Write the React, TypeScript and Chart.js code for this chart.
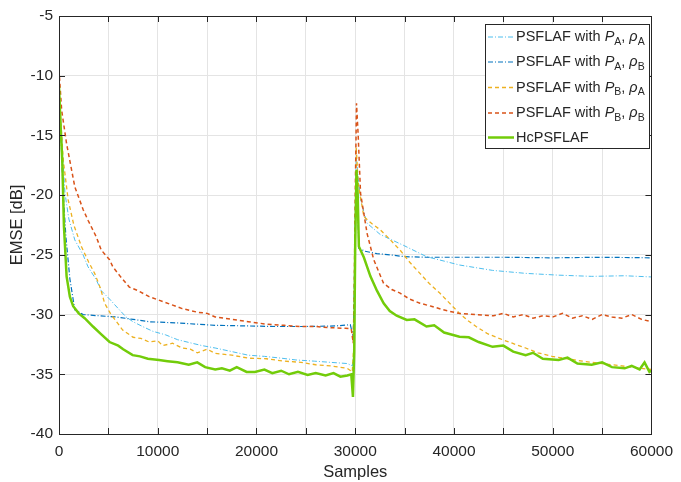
import React, { useEffect, useRef } from "react";
import { Chart, registerables } from "chart.js";

Chart.register(...registerables);

// ---------- data ----------
const xTickLabels = ["0", "10000", "20000", "30000", "40000", "50000", "60000"];
const yTickLabels = ["-5", "-10", "-15", "-20", "-25", "-30", "-35", "-40"];

// PSFLAF with P_A, rho_A
const paRaX = [0, 300, 600, 1000, 1600, 2440, 2940, 3780, 4280, 5120, 6000, 6790, 7500, 8460, 9500, 10800, 12000, 13470, 14500, 15820, 17500, 19160, 20800, 22500, 24000, 25850, 27500, 29200, 29700, 29900, 30000, 30100, 30300, 30540, 31200, 32540, 34880, 37220, 40560, 43910, 47260, 50600, 53950, 57290, 60000];
const paRaY = [-11, -15.5, -19.8, -22, -23.75, -25.0, -26.0, -27.1, -28.0, -28.7, -29.5, -30.2, -30.6, -31.0, -31.4, -31.7, -32.1, -32.4, -32.6, -32.8, -33.1, -33.4, -33.5, -33.65, -33.8, -33.9, -34.0, -34.1, -34.3, -33, -25, -16.8, -18.5, -20.4, -22.35, -23.3, -24.2, -25.15, -25.85, -26.3, -26.55, -26.7, -26.8, -26.75, -26.85];

// PSFLAF with P_A, rho_B
const paRbX = [0, 200, 400, 700, 1100, 1600, 2440, 4000, 5790, 7500, 9130, 12000, 15820, 19000, 22000, 25000, 28000, 29500, 29800, 29900, 30000, 30100, 30250, 30370, 31000, 32200, 33500, 35000, 37000, 40000, 45000, 50000, 55000, 60000];
const paRbY = [-11, -15, -19.5, -23.5, -27, -29.6, -30.0, -30.1, -30.2, -30.4, -30.6, -30.7, -30.9, -30.95, -31.0, -31.0, -30.95, -30.85, -31.85, -28, -22, -18.5, -21, -24.45, -24.7, -24.9, -25.0, -25.15, -25.2, -25.2, -25.2, -25.25, -25.2, -25.25];

// PSFLAF with P_B, rho_A
const pbRaX = [0, 200, 430, 930, 1500, 2270, 3000, 3610, 4200, 4620, 5200, 6450, 7500, 8300, 9130, 10000, 10500, 11500, 12470, 13300, 14000, 15000, 15820, 17500, 19160, 21000, 22800, 24500, 26000, 27500, 29200, 29700, 29900, 30000, 30100, 30300, 30870, 31700, 32540, 33500, 34540, 35500, 36550, 37500, 38560, 39500, 40560, 41400, 42240, 43400, 44580, 45900, 47260, 48500, 49930, 51500, 53000, 55000, 57000, 60000];
const pbRaY = [-11, -14, -17.06, -20.4, -22.5, -24.3, -25.6, -26.55, -27.8, -29.05, -29.9, -31.3, -31.9, -32.0, -32.3, -32.2, -32.6, -32.4, -32.8, -32.9, -33.2, -32.9, -33.25, -33.4, -33.65, -33.7, -33.9, -34.0, -34.2, -34.3, -34.5, -34.8, -32, -24, -16.0, -19, -21.8, -22.4, -22.9, -23.7, -24.6, -25.6, -26.55, -27.4, -28.2, -29.0, -29.9, -30.5, -31.0, -31.6, -32.0, -32.4, -32.8, -33.2, -33.5, -33.7, -33.9, -34.1, -34.3, -34.6];

// PSFLAF with P_B, rho_B
const pbRbX = [0, 270, 770, 1600, 2440, 2940, 3780, 4280, 5120, 5450, 6200, 7120, 8000, 9130, 10500, 12470, 14000, 15000, 15820, 17500, 19160, 21000, 22800, 24500, 26000, 27500, 29000, 29600, 29800, 29900, 30000, 30130, 30300, 30540, 31200, 31870, 32880, 33700, 34540, 35500, 36550, 37700, 38900, 40500, 42240, 44000, 45000, 46000, 47000, 48000, 49000, 50000, 51000, 52000, 53000, 54000, 55000, 56000, 57000, 58000, 59000, 60000];
const pbRbY = [-9.5, -12.9, -15.7, -19.3, -21.2, -22.1, -23.5, -24.6, -25.4, -26.0, -26.8, -27.7, -28.0, -28.5, -28.9, -29.5, -29.8, -29.9, -30.2, -30.4, -30.6, -30.8, -30.9, -31.0, -31.0, -31.1, -31.15, -31.2, -32.4, -28, -20, -12.3, -15, -19.85, -23.2, -25.4, -27.4, -27.9, -28.2, -28.7, -29.05, -29.3, -29.6, -29.9, -30.0, -30.1, -29.9, -30.2, -30.0, -30.3, -30.1, -30.2, -29.9, -30.3, -30.1, -30.4, -30.0, -30.2, -30.3, -30.0, -30.4, -30.6];

// HcPSFLAF
const hcX = [0, 150, 330, 500, 770, 1100, 1435, 2000, 2600, 3440, 4200, 5120, 6000, 6500, 7460, 8200, 9000, 10130, 11000, 12000, 13140, 14000, 14800, 15820, 16500, 17300, 18000, 19000, 19840, 20800, 21600, 22500, 23300, 24200, 25180, 26000, 27000, 27800, 28500, 29200, 29600, 29770, 29900, 30000, 30130, 30250, 30370, 30870, 31540, 32200, 32880, 33500, 34200, 35220, 36000, 37220, 38000, 39000, 40560, 41500, 42500, 43910, 45000, 46000, 47260, 48000, 49000, 50600, 51500, 52500, 53950, 55000, 56000, 57290, 58000, 58800, 59300, 59800, 60000];
const hcY = [-10.9, -14, -17.1, -22.6, -26.8, -28.5, -29.3, -29.9, -30.3, -31.0, -31.6, -32.3, -32.6, -32.9, -33.4, -33.5, -33.7, -33.8, -33.9, -34.0, -34.2, -34.0, -34.4, -34.6, -34.5, -34.7, -34.4, -34.8, -34.8, -34.6, -34.9, -34.7, -35.0, -34.8, -35.05, -34.9, -35.1, -34.9, -35.2, -35.1, -35.0, -36.9, -33, -24, -17.9, -20, -24.3, -25.2, -26.8, -28.0, -29.05, -29.7, -30.1, -30.45, -30.4, -31.0, -30.9, -31.5, -31.85, -31.9, -32.3, -32.7, -32.6, -33.1, -33.4, -33.2, -33.7, -33.8, -33.6, -34.1, -34.2, -34.0, -34.4, -34.5, -34.3, -34.6, -34.0, -34.8, -34.7];

const FONT = "'Liberation Sans', Arial, Helvetica, sans-serif";
const INK = "#262626";

type Series = {
  label: string;
  sub1: string;
  sub2: string;
  x: number[];
  y: number[];
  color: string;
  width: number;
  dash: number[];
  order: number;
};

const series: Series[] = [
  { label: "PSFLAF with ", sub1: "A", sub2: "A", x: paRaX, y: paRaY, color: "#4DBEEE", width: 1, dash: [5, 2, 1, 2], order: 5 },
  { label: "PSFLAF with ", sub1: "A", sub2: "B", x: paRbX, y: paRbY, color: "#0072BD", width: 1.2, dash: [5, 2, 1, 2], order: 4 },
  { label: "PSFLAF with ", sub1: "B", sub2: "A", x: pbRaX, y: pbRaY, color: "#EDB120", width: 1.3, dash: [4, 3], order: 3 },
  { label: "PSFLAF with ", sub1: "B", sub2: "B", x: pbRbX, y: pbRbY, color: "#D95319", width: 1.5, dash: [4, 3], order: 2 },
  { label: "HcPSFLAF", sub1: "", sub2: "", x: hcX, y: hcY, color: "#72CC0A", width: 2.5, dash: [], order: 1 },
];

const boxPlugin = {
  id: "matlabBox",
  afterDraw(chart: any) {
    const { ctx, chartArea } = chart;
    const { left, right, top, bottom } = chartArea;
    const xs = chart.scales.x;
    const ys = chart.scales.y;
    ctx.save();
    ctx.strokeStyle = INK;
    ctx.lineWidth = 1;
    ctx.setLineDash([]);
    ctx.strokeRect(Math.round(left) + 0.5, Math.round(top) + 0.5, Math.round(right - left), Math.round(bottom - top));
    const tl = 6;
    ctx.beginPath();
    for (let v = 5000; v < 60000; v += 5000) {
      const px = Math.round(xs.getPixelForValue(v)) + 0.5;
      ctx.moveTo(px, bottom);
      ctx.lineTo(px, bottom - tl);
      ctx.moveTo(px, top);
      ctx.lineTo(px, top + tl);
    }
    for (let v = -35; v <= -10; v += 5) {
      const py = Math.round(ys.getPixelForValue(v)) + 0.5;
      ctx.moveTo(left, py);
      ctx.lineTo(left + tl, py);
      ctx.moveTo(right, py);
      ctx.lineTo(right - tl, py);
    }
    ctx.stroke();

    // legend
    const lx = 485, ly = 24, lw = 164, lh = 124;
    ctx.fillStyle = "#ffffff";
    ctx.fillRect(lx, ly, lw, lh);
    ctx.strokeStyle = INK;
    ctx.strokeRect(lx + 0.5, ly + 0.5, lw, lh);
    const rows = [37, 62, 87.5, 113, 137.5];
    series.forEach((s, i) => {
      const ry = rows[i];
      ctx.save();
      ctx.strokeStyle = s.color;
      ctx.lineWidth = s.width;
      ctx.setLineDash(s.dash);
      ctx.beginPath();
      ctx.moveTo(488, ry);
      ctx.lineTo(514, ry);
      ctx.stroke();
      ctx.restore();
      ctx.fillStyle = INK;
      ctx.textBaseline = "middle";
      ctx.textAlign = "left";
      let tx = 516;
      ctx.font = `14.5px ${FONT}`;
      ctx.fillText(s.label, tx, ry);
      tx += ctx.measureText(s.label).width;
      if (s.sub1) {
        ctx.font = `italic 14.5px ${FONT}`;
        ctx.fillText("P", tx, ry);
        tx += ctx.measureText("P").width;
        ctx.font = `10.5px ${FONT}`;
        ctx.fillText(s.sub1, tx, ry + 5);
        tx += ctx.measureText(s.sub1).width;
        ctx.font = `14.5px ${FONT}`;
        ctx.fillText(", ", tx, ry);
        tx += ctx.measureText(", ").width;
        ctx.font = `italic 14.5px ${FONT}`;
        ctx.fillText("\u03C1", tx, ry);
        tx += ctx.measureText("\u03C1").width;
        ctx.font = `10.5px ${FONT}`;
        ctx.fillText(s.sub2, tx, ry + 5);
      }
    });
    ctx.restore();
  },
};

export default function App() {
  const ref = useRef<HTMLCanvasElement | null>(null);
  useEffect(() => {
    if (!ref.current) return;
    const chart = new Chart(ref.current, {
      type: "line",
      data: {
        datasets: series.map((s) => ({
          label: s.label,
          data: s.x.map((xv, i) => ({ x: xv, y: s.y[i] })),
          borderColor: s.color,
          backgroundColor: s.color,
          borderWidth: s.width,
          borderDash: s.dash,
          pointRadius: 0,
          tension: 0,
          fill: false,
          order: s.order,
        })),
      },
      options: {
        animation: false,
        responsive: false,
        devicePixelRatio: 1,
        layout: { padding: { left: 0, top: 16, right: 24, bottom: 0 } },
        plugins: { legend: { display: false }, tooltip: { enabled: false } },
        scales: {
          x: {
            type: "linear",
            min: 0,
            max: 60000,
            afterFit: (s: any) => { s.height = 48; },
            afterBuildTicks: (s: any) => {
              s.ticks = [];
              for (let v = 0; v <= 60000; v += 5000) s.ticks.push({ value: v });
            },
            grid: { color: "#e4e4e4", drawTicks: false, lineWidth: 1 },
            border: { display: false },
            ticks: {
              padding: 8,
              maxRotation: 0,
              autoSkip: false,
              color: INK,
              font: { family: FONT, size: 15.5 },
              callback: (v: any) => (Number(v) % 10000 === 0 ? xTickLabels[Number(v) / 10000] : ""),
            },
            title: {
              display: true,
              text: "Samples",
              color: INK,
              font: { family: FONT, size: 16.5 },
              padding: { top: 0, bottom: 0 },
            },
          },
          y: {
            type: "linear",
            min: -40,
            max: -5,
            afterFit: (s: any) => { s.width = 59; },
            afterBuildTicks: (s: any) => {
              s.ticks = [];
              for (let v = -40; v <= -5; v += 5) s.ticks.push({ value: v });
            },
            grid: { color: "#e4e4e4", drawTicks: false, lineWidth: 1 },
            border: { display: false },
            ticks: {
              padding: 6,
              autoSkip: false,
              color: INK,
              font: { family: FONT, size: 15.5 },
              callback: (v: any) => yTickLabels[Math.round((-5 - Number(v)) / 5)],
            },
            title: {
              display: true,
              text: "EMSE [dB]",
              color: INK,
              font: { family: FONT, size: 16.5 },
              padding: { top: 8, bottom: 0 },
            },
          },
        },
      },
      plugins: [boxPlugin],
    });
    return () => chart.destroy();
  }, []);
  return (
    <div style={{ position: "absolute", left: 0, top: 0, width: 681, height: 482, background: "#fff" }}>
      <canvas ref={ref} width={681} height={482} style={{ width: 681, height: 482, display: "block" }} />
    </div>
  );
}
